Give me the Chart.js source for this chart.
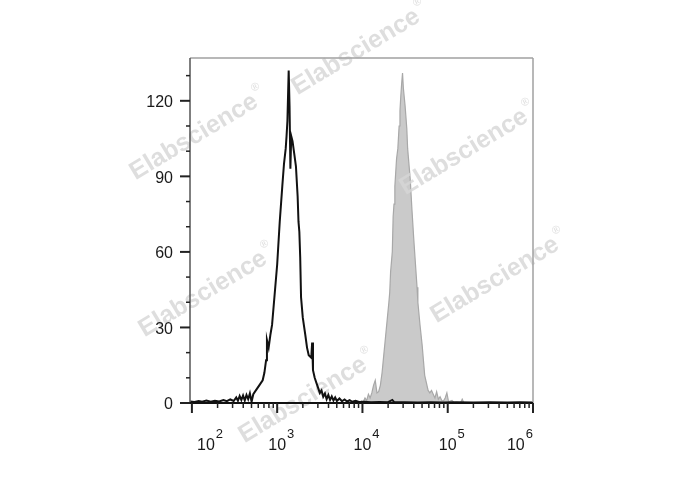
<!DOCTYPE html>
<html>
<head>
<meta charset="utf-8">
<script src="https://cdn.jsdelivr.net/npm/chart.js@4/dist/chart.umd.min.js"></script>
<style>
  body { margin: 0; background: #fff; }
  canvas { display: block; }
</style>
</head>
<body>
<canvas id="histChart" width="688" height="490"></canvas>
<script>
// histogram channels are given as log10 of the fluorescence value
const blackLog = [1.98, 2.03, 2.08, 2.12, 2.17, 2.22, 2.27, 2.32, 2.37, 2.41, 2.45, 2.49, 2.52, 2.54, 2.56, 2.58, 2.60, 2.62, 2.64, 2.66, 2.68, 2.70, 2.72, 2.74, 2.77, 2.80, 2.83, 2.85, 2.87, 2.88, 2.90, 2.92, 2.94, 2.97, 3.00, 3.03, 3.06, 3.08, 3.10, 3.11, 3.12, 3.135, 3.145, 3.155, 3.165, 3.18, 3.20, 3.22, 3.24, 3.25, 3.26, 3.27, 3.28, 3.30, 3.33, 3.35, 3.37, 3.40, 3.41, 3.42, 3.44, 3.46, 3.48, 3.50, 3.52, 3.54, 3.56, 3.58, 3.60, 3.62, 3.64, 3.66, 3.68, 3.70, 3.73, 3.76, 3.79, 3.82, 3.85, 3.88, 3.92, 3.96, 4.02, 4.10, 4.20, 4.30, 4.35, 4.37, 4.40, 4.50, 4.65, 4.80, 4.95, 5.10, 5.30, 5.50, 5.70, 5.85, 6.00];
const blackCount = [0.6, 0.4, 0.8, 0.5, 1.0, 0.5, 0.9, 0.6, 1.2, 0.7, 1.4, 0.8, 2.2, 0.9, 2.8, 1.2, 3.0, 1.0, 3.2, 1.5, 3.8, 0.5, 3.5, 4.5, 6.0, 7.5, 9, 12, 17, 25, 22, 27, 31, 43, 55, 72, 86, 95, 101, 106, 112, 132, 118, 93, 106, 104, 99, 94, 82, 72, 68, 58, 42, 34, 27, 22, 19, 18, 24, 13, 10, 8, 6, 4, 5, 2.5, 3.8, 1.5, 3.2, 1.2, 2.6, 1.0, 2.2, 0.8, 1.8, 0.7, 1.4, 0.6, 1.1, 0.5, 0.9, 0.4, 0.5, 0.3, 0.4, 0.3, 1.2, 0.4, 0.3, 0.3, 0.2, 0.3, 0.2, 0.3, 0.2, 0.3, 0.2, 0.3, 0.2];

const grayLog = [1.98, 3.97, 3.99, 4.01, 4.03, 4.05, 4.07, 4.09, 4.11, 4.13, 4.15, 4.17, 4.19, 4.21, 4.23, 4.25, 4.27, 4.29, 4.31, 4.32, 4.33, 4.35, 4.36, 4.37, 4.38, 4.40, 4.415, 4.43, 4.44, 4.45, 4.46, 4.47, 4.48, 4.50, 4.52, 4.53, 4.56, 4.58, 4.60, 4.62, 4.64, 4.65, 4.675, 4.70, 4.72, 4.73, 4.75, 4.77, 4.79, 4.81, 4.83, 4.85, 4.87, 4.89, 4.91, 4.93, 4.95, 4.97, 4.99, 5.01, 5.03, 5.05, 5.08, 5.15, 5.17, 5.19, 6.00];
const grayCount = [0, 0, 0.8, 0.5, 2.0, 1.0, 3.5, 2.0, 4.0, 7.0, 9.0, 4.0, 4.5, 7.0, 12, 19, 26, 33, 40, 44, 52, 60, 74, 79, 86, 97, 101, 110, 116, 122, 127, 131, 125, 118, 109, 101, 89, 77, 66, 56, 46, 40, 31, 23, 15, 11, 8, 5, 4, 5, 3.5, 2, 4.5, 1.5, 2.5, 1, 0.8, 2.0, 4, 0.5, 0.8, 1.0, 0, 0, 1.5, 0, 0];

const yTicks = [0, 30, 60, 90, 120];
const yMinorTicks = [10, 20, 40, 50, 70, 80, 100, 110, 130];
const xDecades = [2, 3, 4, 5, 6];

const watermarkSpots = [[194, 137], [356, 52], [464, 152], [203, 294], [495, 280], [303, 400]];

const toPoints = (logs, counts) => logs.map((l, i) => ({ x: Math.pow(10, l), y: counts[i] }));

function drawWatermark(ctx) {
  ctx.save();
  watermarkSpots.forEach(([cx, cy]) => {
    ctx.save();
    ctx.translate(cx, cy);
    ctx.rotate(-31 * Math.PI / 180);
    ctx.fillStyle = "rgba(214, 214, 214, 0.8)";
    ctx.font = 'bold 25px "Liberation Sans", Arial, sans-serif';
    ctx.textAlign = "center";
    ctx.textBaseline = "middle";
    ctx.fillText("Elabscience", 0, 0);
    const w = ctx.measureText("Elabscience").width;
    ctx.font = '11px "Liberation Sans", Arial, sans-serif';
    ctx.textAlign = "left";
    ctx.fillText("®", w / 2 + 2, -11);
    ctx.restore();
  });
  ctx.restore();
}

function stroke(ctx, x1, y1, x2, y2) {
  ctx.beginPath();
  ctx.moveTo(x1, y1);
  ctx.lineTo(x2, y2);
  ctx.stroke();
}

const axesPlugin = {
  id: "cytoAxes",
  afterDatasetDraw(chart, args) {
    if (args.index === 1) drawWatermark(chart.ctx);
  },
  afterDraw(chart) {
    const { ctx, chartArea: a, scales } = chart;
    ctx.save();

    // box
    ctx.lineWidth = 1.5;
    ctx.strokeStyle = "#a0a0a0";
    stroke(ctx, a.left, a.top, a.right, a.top);
    stroke(ctx, a.right, a.top, a.right, a.bottom);
    ctx.strokeStyle = "#555";
    stroke(ctx, a.left, a.top, a.left, a.bottom);
    ctx.strokeStyle = "#111";
    ctx.lineWidth = 2;
    stroke(ctx, a.left, a.bottom, a.right, a.bottom);

    // y axis
    ctx.strokeStyle = "#222";
    ctx.lineWidth = 1.5;
    yMinorTicks.forEach((v) => {
      const y = scales.y.getPixelForValue(v);
      stroke(ctx, a.left - 4, y, a.left, y);
    });
    ctx.lineWidth = 2;
    ctx.fillStyle = "#1a1a1a";
    ctx.font = '16px "Liberation Sans", Arial, sans-serif';
    ctx.textAlign = "right";
    ctx.textBaseline = "middle";
    yTicks.forEach((v) => {
      const y = scales.y.getPixelForValue(v);
      stroke(ctx, a.left - 10, y, a.left, y);
      ctx.fillText(String(v), a.left - 17, y + 2);
    });

    // x axis
    ctx.lineWidth = 1.5;
    xDecades.slice(0, -1).forEach((d) => {
      for (let m = 2; m <= 9; m++) {
        const x = scales.x.getPixelForValue(m * Math.pow(10, d));
        stroke(ctx, x, a.bottom, x, a.bottom + 5);
      }
    });
    ctx.lineWidth = 2;
    ctx.textAlign = "left";
    ctx.textBaseline = "alphabetic";
    xDecades.forEach((d) => {
      const x = scales.x.getPixelForValue(Math.pow(10, d));
      stroke(ctx, x, a.bottom, x, a.bottom + 10);

      ctx.font = '16px "Liberation Sans", Arial, sans-serif';
      const wBase = ctx.measureText("10").width;
      ctx.font = '13px "Liberation Sans", Arial, sans-serif';
      const wExp = ctx.measureText(String(d)).width;
      const total = wBase + 1 + wExp;
      let start = x - wBase / 2;
      start = Math.max(start, a.left + 7);
      start = Math.min(start, a.right - total);

      ctx.font = '16px "Liberation Sans", Arial, sans-serif';
      ctx.fillText("10", start, a.bottom + 47);
      ctx.font = '13px "Liberation Sans", Arial, sans-serif';
      ctx.fillText(String(d), start + wBase + 1, a.bottom + 35);
    });

    ctx.restore();
  },
};

document.addEventListener("DOMContentLoaded", () => {
  const ctx = document.getElementById("histChart").getContext("2d");
  new Chart(ctx, {
    type: "line",
    data: {
      datasets: [
        {
          label: "Isotype",
          data: toPoints(blackLog, blackCount),
          borderColor: "#111",
          borderWidth: 2,
          pointRadius: 0,
          tension: 0,
          fill: false,
        },
        {
          label: "Stained",
          data: toPoints(grayLog, grayCount),
          borderColor: "#a8a8a8",
          backgroundColor: "#cacaca",
          borderWidth: 1.2,
          pointRadius: 0,
          tension: 0,
          fill: "origin",
        },
      ],
    },
    options: {
      responsive: false,
      animation: false,
      layout: { padding: { left: 190, right: 155, top: 58, bottom: 87 } },
      plugins: {
        legend: { display: false },
        tooltip: { enabled: false },
      },
      scales: {
        x: { type: "logarithmic", min: 95, max: 1000000, display: false },
        y: { type: "linear", min: 0, max: 137, display: false },
      },
    },
    plugins: [axesPlugin],
  });
});
</script>
</body>
</html>
